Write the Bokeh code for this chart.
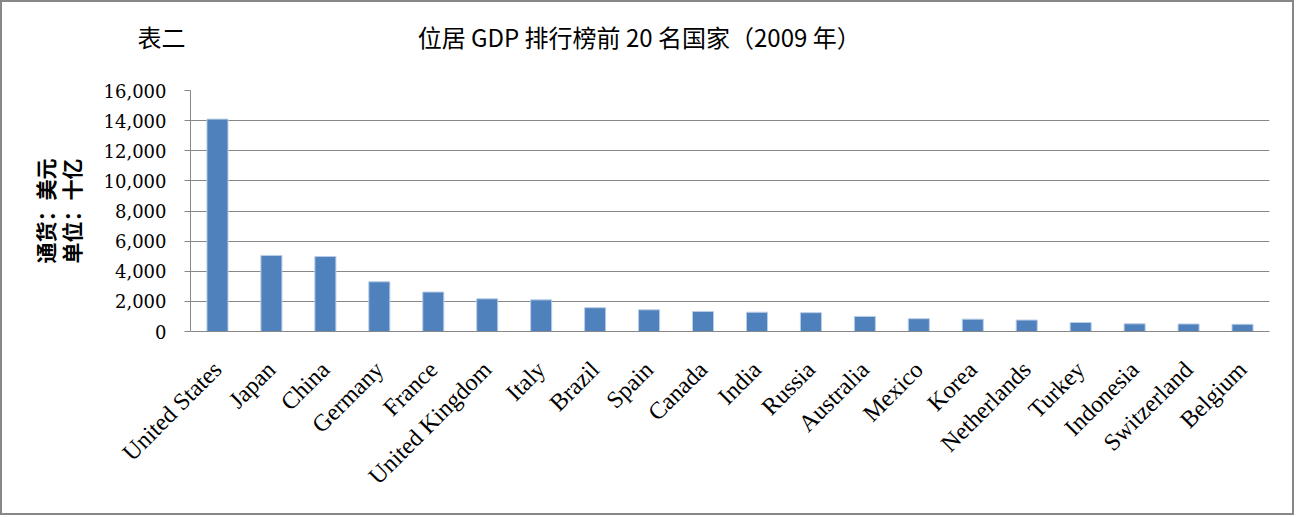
from math import pi
from bokeh.plotting import figure
from bokeh.models import ColumnDataSource, Range1d, FixedTicker, NumeralTickFormatter
from bokeh.embed import file_html
from bokeh.resources import INLINE

countries = ["United States", "Japan", "China", "Germany", "France", "United Kingdom",
             "Italy", "Brazil", "Spain", "Canada", "India", "Russia", "Australia",
             "Mexico", "Korea", "Netherlands", "Turkey", "Indonesia", "Switzerland", "Belgium"]
gdp = [14100, 5050, 4980, 3300, 2620, 2170, 2100, 1580, 1440, 1330, 1280, 1250, 1000,
       850, 820, 760, 600, 510, 500, 480]
y_ticks = [0, 2000, 4000, 6000, 8000, 10000, 12000, 14000, 16000]
title_left = "表二"
title_main = "位居 GDP 排行榜前 20 名国家（2009 年）"
ylabel_lines = ["通货：美元", "单位：十亿"]

src = ColumnDataSource(dict(country=countries, gdp=gdp))

W, H = 1294, 515
p = figure(x_range=countries, y_range=Range1d(0, 16000), width=W, height=H,
           output_backend="svg", toolbar_location=None, tools="",
           min_border_left=188, min_border_right=27, min_border_top=88, min_border_bottom=186)
p.styles = {"border": "2px solid #878787"}
p.outline_line_color = None
p.background_fill_color = "white"

p.vbar(x="country", top="gdp", width=0.39, source=src,
       fill_color="#4F81BD", line_color="#B9CDE5", line_width=1)

# y axis
p.yaxis.ticker = FixedTicker(ticks=y_ticks)
p.yaxis.formatter = NumeralTickFormatter(format="0,0")
p.yaxis.axis_line_color = "#878787"
p.yaxis.major_tick_line_color = "#878787"
p.yaxis.major_tick_out = 6
p.yaxis.major_tick_in = 0
p.yaxis.minor_tick_line_color = None
p.yaxis.major_label_standoff = 18
p.yaxis.major_label_text_font = "DejaVu Serif"
p.yaxis.major_label_text_font_size = "18px"
p.yaxis.major_label_text_color = "#000000"
p.yaxis.axis_label = "\n".join(ylabel_lines)
p.yaxis.axis_label_text_font = "Noto Sans CJK SC"
p.yaxis.axis_label_text_font_size = "21px"
p.yaxis.axis_label_text_font_style = "bold"
p.yaxis.axis_label_text_color = "#000000"
p.yaxis.axis_label_text_line_height = 0.85
p.yaxis.axis_label_standoff = 15

# x axis
p.xaxis.axis_line_color = "#878787"
p.xaxis.major_tick_line_color = None
p.xaxis.minor_tick_line_color = None
p.xaxis.major_label_orientation = pi / 4
p.xaxis.major_label_standoff = 28
p.xaxis.major_label_text_font = "Liberation Serif"
p.xaxis.major_label_text_font_size = "24px"
p.xaxis.major_label_text_color = "#000000"

p.xgrid.grid_line_color = None
p.ygrid.grid_line_color = "#878787"
p.ygrid.grid_line_width = 1

# title line: table tag on the left, main title further right
p.title.text = title_left + "\u3000" * 9 + "\u00a0" * 3 + title_main + "\n\u00a0"
p.title.align = "left"
p.title.offset = -53
p.title.standoff = 4
p.title.text_font = "Noto Sans CJK SC"
p.title.text_font_size = "24px"
p.title.text_font_style = "normal"
p.title.text_color = "#000000"

open("out.html", "w").write(file_html(p, INLINE))
